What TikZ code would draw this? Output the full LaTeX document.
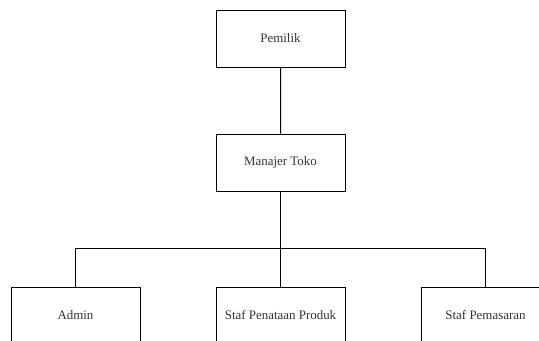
\documentclass[tikz,border=0pt]{standalone}
\usepackage{fontspec}
\setmainfont{Liberation Serif}
\begin{document}
\begin{tikzpicture}[x=0.75pt,y=-0.75pt,line width=0.75pt,
       edge from parent path=
    {(\tikzparentnode.south) -- (\tikzchildnode.north)},
    level 1/.style={level distance=93pt},
    level 2/.style={level distance=114.75pt,sibling distance=153.75pt,
       edge from parent path=
    {(\tikzparentnode.south) -- ++(0,57) -| (\tikzchildnode.north)}},
   every node/.style={draw,minimum width=96.75pt,minimum height=42.75pt,
     font=\fontsize{9.7}{11}\selectfont,text=black!80}]

\useasboundingbox (0,0) rectangle (539,340);
\clip (0,0) rectangle (539,340);

\node (pemilik) at (280.5,38.5) {Pemilik}
    child {node (manajer) {Manajer Toko}
      child {node (admin) {Admin}}
      child {node (penataan) {Staf Penataan Produk}}
      child {node (pemasaran) {Staf Pemasaran}}
    };

\end{tikzpicture}
\end{document}
